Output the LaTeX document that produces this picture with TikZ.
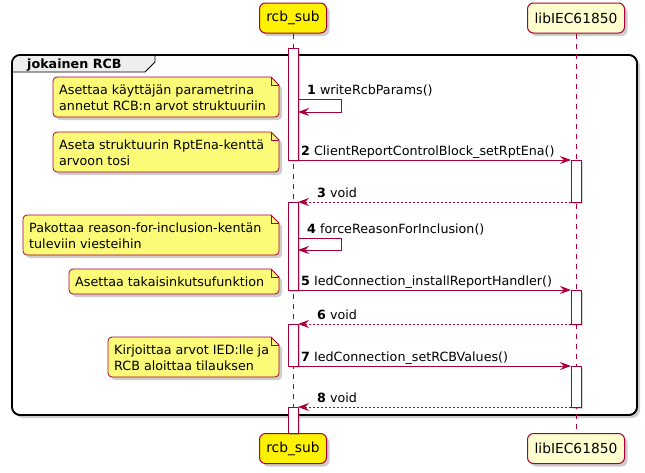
\documentclass[tikz,border=0pt]{standalone}
\usepackage{fontspec}
\setmainfont{DejaVu Sans}
\usetikzlibrary{arrows.meta,shadows}
\definecolor{pu}{HTML}{A80036}
\definecolor{partfill}{HTML}{FEFECE}
\definecolor{notefill}{HTML}{FBFB77}
\definecolor{tabfill}{HTML}{EEEEEE}
\newcommand{\pnote}[7]{%
  \filldraw[notebody] (#4,#3+8) [rounded corners=4pt] -- (#4,#5) -- (#2,#5) -- (#2,#3) [sharp corners] -- (#4-8,#3) -- cycle;
  \draw[pu, line width=0.8pt] (#4-8,#3) -- (#4-8,#3+8) -- (#4,#3+8);
  \node[notetext] (#1) at (#2+6,#6) {\begin{tabular}[t]{@{}l@{}}#7\end{tabular}};
}
\begin{document}
\begin{tikzpicture}[x=1pt,y=-1pt,
  shad/.style={drop shadow={shadow xshift=3pt,shadow yshift=-3pt,opacity=0.28,fill=black!70}},
  smallshad/.style={drop shadow={shadow xshift=2pt,shadow yshift=-2pt,opacity=0.22,fill=black!70}},
  part/.style={draw=pu, line width=1pt, rounded corners=6pt, minimum height=30pt, inner sep=0pt,
    font=\fontsize{13.8}{16}\selectfont, shad},
  notebody/.style={draw=pu, fill=notefill, line width=0.8pt, shad},
  notetext/.style={anchor=base west, inner sep=0pt, font=\fontsize{12.7}{16}\selectfont},
  msg/.style={anchor=base west, inner sep=0pt, font=\fontsize{12.7}{16}\selectfont},
  bar/.style={draw=pu, fill=white, line width=0.9pt, smallshad},
  call/.style={draw=pu, line width=0.9pt, -{Stealth[length=11pt,width=8pt,inset=4pt]}},
  ret/.style={call, dash pattern=on 2pt off 2pt},
  life/.style={draw=pu, line width=0.8pt, dash pattern=on 5pt off 5pt}
]
\useasboundingbox (0,0) rectangle (645,472);
% frame
\filldraw[draw=black, fill=white, line width=1.6pt, rounded corners=8pt, shad] (12,55) rectangle (637,415);
\filldraw[draw=black, fill=tabfill, line width=0.8pt] (12,72) [rounded corners=8pt] -- (12,55) [sharp corners] -- (155,55) -- (155,62) -- (145,72) -- cycle;
\draw[black, line width=1.6pt, rounded corners=8pt] (12,55) rectangle (637,415);
\node[anchor=base west, inner sep=0pt, font=\bfseries\fontsize{12.7}{15}\selectfont] (framelabel) at (27,68) {jokainen RCB};
% participants
\node[part, fill=yellow, minimum width=67pt] (rcbtop) at (293,18) {rcb\_sub};
\node[part, fill=partfill, minimum width=97pt] (libtop) at (576,18) {libIEC61850};
\node[part, fill=yellow, minimum width=67pt] (rcbbot) at (293,448.5) {rcb\_sub};
\node[part, fill=partfill, minimum width=97pt] (libbot) at (576,448.5) {libIEC61850};
\draw[life] (rcbtop.south) -- (rcbbot.north);
\draw[life] (libtop.south) -- (libbot.north);
% notes
\pnote{n1}{53}{77}{279}{117}{94}{Asettaa käyttäjän parametrina\\annetut RCB:n arvot struktuuriin}
\pnote{n2}{53}{132}{279}{172}{149}{Aseta struktuurin RptEna-kenttä\\arvoon tosi}
\pnote{n3}{23}{215}{279}{255}{232}{Pakottaa reason-for-inclusion-kentän\\tuleviin viesteihin}
\pnote{n4}{69}{269}{279}{294}{286}{Asettaa takaisinkutsufunktion}
\pnote{n5}{108}{337}{279}{377}{354}{Kirjoittaa arvot IED:lle ja\\RCB aloittaa tilauksen}
% activation bars
\draw[bar] (288,48) rectangle (298,160);
\draw[bar] (288,202) rectangle (298,290);
\draw[bar] (288,324) rectangle (298,366);
\draw[bar] (288,407) rectangle (298,433);
\draw[bar] (571,160) rectangle (581,202);
\draw[bar] (571,290) rectangle (581,324);
\draw[bar] (571,366) rectangle (581,407);
% message endpoints
\coordinate (a1) at (298,99);  \coordinate (a1r) at (341,99);
\coordinate (a1b) at (341,112); \coordinate (a1e) at (298,112);
\coordinate (a2) at (298,160); \coordinate (b2) at (571,160);
\coordinate (b3) at (571,202); \coordinate (a3) at (298,202);
\coordinate (a4) at (298,238); \coordinate (a4r) at (341,238);
\coordinate (a4b) at (341,250); \coordinate (a4e) at (298,250);
\coordinate (a5) at (298,290); \coordinate (b5) at (571,290);
\coordinate (b6) at (571,324); \coordinate (a6) at (298,324);
\coordinate (a7) at (298,366); \coordinate (b7) at (571,366);
\coordinate (b8) at (571,407); \coordinate (a8) at (298,407);
% messages
\draw[call] (a1) -- (a1r) -- (a1b) -- (a1e);
\node[msg] (l1) at (307,94) {\textbf{1} writeRcbParams()};
\draw[call] (a2) -- (b2);
\node[msg] (l2) at (301,155) {\textbf{2} ClientReportControlBlock\_setRptEna()};
\draw[ret] (b3) -- (a3);
\node[msg] (l3) at (317,197) {\textbf{3} void};
\draw[call] (a4) -- (a4r) -- (a4b) -- (a4e);
\node[msg] (l4) at (307,233) {\textbf{4} forceReasonForInclusion()};
\draw[call] (a5) -- (b5);
\node[msg] (l5) at (301,285) {\textbf{5} IedConnection\_installReportHandler()};
\draw[ret] (b6) -- (a6);
\node[msg] (l6) at (317,319) {\textbf{6} void};
\draw[call] (a7) -- (b7);
\node[msg] (l7) at (301,361) {\textbf{7} IedConnection\_setRCBValues()};
\draw[ret] (b8) -- (a8);
\node[msg] (l8) at (317,402) {\textbf{8} void};
\end{tikzpicture}
\end{document}
